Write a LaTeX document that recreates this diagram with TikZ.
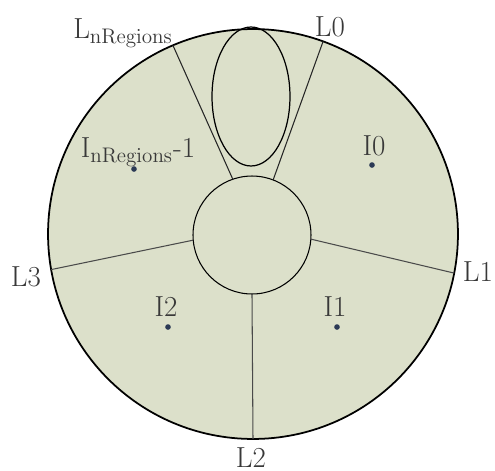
\documentclass[tikz,border=0pt]{standalone}
\usepackage{tikz}
\usetikzlibrary{shapes.geometric,positioning}
\definecolor{regionfill}{HTML}{DCE0CA}
\definecolor{dotblue}{HTML}{2B3A55}
\definecolor{cutgray}{HTML}{4A4A4A}

\begin{document}
\begin{tikzpicture}[x=0.02cm, y=-0.02cm,
    every node/.style={font=\fontsize{16.5}{18}\selectfont, text=black!78},
    cut/.style={cutgray, line width=0.6pt},
    pt/.style={circle, fill=dotblue, inner sep=0pt, minimum size=3.2pt}]
  \useasboundingbox (0,0) rectangle (495,471);
  \node[draw, circle, line width=1pt, fill=regionfill, inner sep=0pt, outer sep=0pt, minimum size=8.2cm] (outer) at (253,234) {};
  \node[draw, circle, line width=0.6pt, fill=regionfill, inner sep=0pt, outer sep=0pt, minimum size=2.36cm] (inner) at (252,235) {};
  \node[draw, ellipse, line width=0.7pt, inner sep=0pt, outer sep=0pt, minimum width=1.56cm, minimum height=2.78cm] (hole) at (251,96.5) {};

  % region boundaries
  \draw[cut, black!85] (inner.109) -- (outer.113);
  \draw[cut, black!85] (inner.69) -- (outer.70);
  \draw[cut] (inner.-4) -- (outer.-11);
  \draw[cut] (inner.-90) -- (outer.-90);
  \draw[cut] (inner.185) -- (outer.190);

  % boundary labels
  \node (lN) at (123,33) {L$_{\mathrm{nRegions}}$};
  \node (l0) at (330,27) {L0};
  \node (l1) at (478,272) {L1};
  \node (l2) at (251,458) {L2};
  \node (l3) at (26,277) {L3};

  % interior points
  \node[pt] (dN) at (134,169) {};
  \node[pt] (d0) at (372,165) {};
  \node[pt] (d1) at (337,327) {};
  \node[pt] (d2) at (168,327) {};
  \node (iN) at (138,152) {I$_{\mathrm{nRegions}}$-1};
  \node (i0) at (374,146) {I0};
  \node (i1) at (335,307) {I1};
  \node (i2) at (166,307) {I2};
\end{tikzpicture}
\end{document}
